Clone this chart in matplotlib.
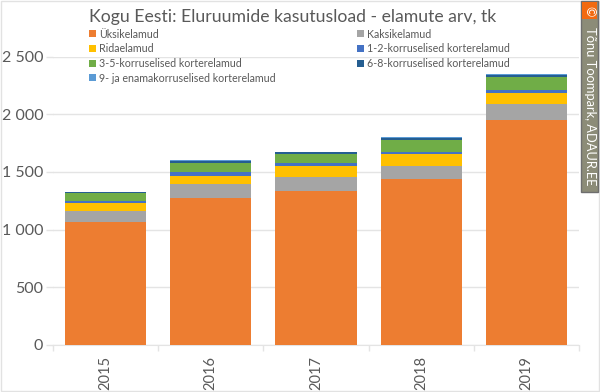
import matplotlib
matplotlib.use('Agg')
import matplotlib.pyplot as plt
from matplotlib.patches import Rectangle

plt.rcParams['font.family'] = ['Lato', 'DejaVu Sans']

years = ['2015', '2016', '2017', '2018', '2019']
labels = ['Üksikelamud', 'Kaksikelamud', 'Ridaelamud', '1-2-korruselised korterelamud',
          '3-5-korruselised korterelamud', '6-8-korruselised korterelamud',
          '9- ja enamakorruselised korterelamud']
yksik = [1070, 1276, 1332, 1436, 1947]
kaksik = [95, 119, 124, 115, 141]
rida = [65, 72, 98, 101, 98]
k1_2 = [15, 28, 26, 23, 24]
k3_5 = [68, 85, 72, 101, 112]
k6_8 = [13, 18, 18, 22, 22]
k9 = [4, 4, 4, 4, 5]
series = [yksik, kaksik, rida, k1_2, k3_5, k6_8, k9]
colors = ['#ED7D31', '#A5A5A5', '#FFC000', '#4472C4', '#70AD47', '#255E91', '#5B9BD5']
yticks = [0, 500, 1000, 1500, 2000, 2500]

W, H = 600, 392
text_col = '#595959'
grid_col = '#E4E4E4'

fig = plt.figure(figsize=(W / 100, H / 100), dpi=100)
ax = fig.add_axes([53 / W, 1 - 345 / H, 526 / W, 288.5 / H])

# stacked bars
bottom = [0] * len(years)
for vals, col, lab in zip(series, colors, labels):
    ax.bar(range(len(years)), vals, width=0.77, bottom=bottom, color=col, label=lab,
           linewidth=0, zorder=3)
    bottom = [b + v for b, v in zip(bottom, vals)]

ax.set_xlim(-0.5, 4.5)
ax.set_ylim(0, 2500)
ax.set_yticks(yticks)
ax.set_yticklabels([f'{t:,}'.replace(',', ' ') for t in yticks], fontsize=11.5, color=text_col)
ax.set_xticks(range(len(years)))
ax.set_xticklabels(years, rotation=90, fontsize=10.5, color=text_col)
ax.set_xticks([i - 0.5 for i in range(6)], minor=True)
ax.tick_params(axis='x', which='major', length=0, pad=8)
ax.tick_params(axis='x', which='minor', length=4, color=grid_col, width=1)
ax.tick_params(axis='y', length=5, color=grid_col, width=1, pad=2)
ax.grid(axis='y', color=grid_col, linewidth=1, zorder=0)
ax.set_axisbelow(True)
for s in ['top', 'right', 'left']:
    ax.spines[s].set_visible(False)
ax.spines['bottom'].set_color(grid_col)

fig.text(293 / W, 1 - 17 / H, 'Kogu Eesti: Eluruumide kasutusload - elamute arv, tk',
         fontsize=12.7, color=text_col, ha='center', va='center')

# legend fills by column, reference reads by row
handles, labs = ax.get_legend_handles_labels()
order = [0, 2, 4, 6, 1, 3, 5]
ax.legend([handles[i] for i in order], [labs[i] for i in order], ncol=2,
          loc='upper left', bbox_to_anchor=(89.3 / W, 1 - 28.5 / H), bbox_transform=fig.transFigure,
          frameon=False, fontsize=7.7, labelcolor=text_col, handlelength=0.63, handleheight=0.63,
          handletextpad=0.28, columnspacing=7.6, labelspacing=0.35, borderpad=0, borderaxespad=0)

# chart border
fig.add_artist(Rectangle((1 / W, 1 / H), 1 - 2 / W, 1 - 2 / H, transform=fig.transFigure,
                         fill=False, edgecolor='#E2E2E2', linewidth=1))

# watermark
fig.add_artist(Rectangle((581 / W, 1 - 192 / H), 17 / W, 191 / H, transform=fig.transFigure,
                         facecolor='#8C8C78', edgecolor='#6E6E6E', linewidth=1))
fig.add_artist(Rectangle((582 / W, 1 - 19 / H), 15 / W, 17 / H, transform=fig.transFigure,
                         facecolor='#F26A10', edgecolor='none'))
fig.text(589.5 / W, 1 - 11 / H, '©', rotation=270, color='white', fontsize=9,
         ha='center', va='center')
fig.text(589.5 / W, 1 - 106 / H, 'Tõnu Toompark, ADAUR.EE', rotation=270, color='white',
         fontsize=9.3, ha='center', va='center')

fig.savefig('out.png', dpi=100)
